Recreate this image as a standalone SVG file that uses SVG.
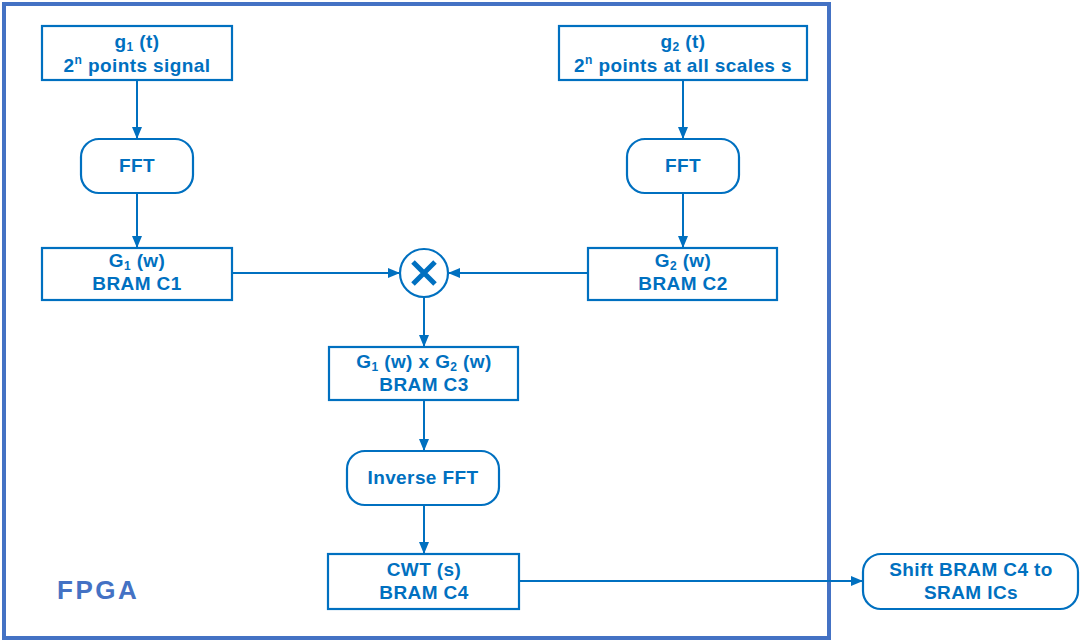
<svg xmlns="http://www.w3.org/2000/svg" width="1080" height="643" viewBox="0 0 1080 643">
<defs>
<marker id="ah" viewBox="0 0 12 10" refX="12" refY="5" markerWidth="12" markerHeight="10" markerUnits="userSpaceOnUse" orient="auto">
<path d="M0,0 L12,5 L0,10 Z" fill="#0070C0"/>
</marker>
<style>
.box{fill:#fff;stroke:#0070C0;stroke-width:2.2}
.t{font-family:"Liberation Sans",Arial,sans-serif;font-weight:bold;font-size:19px;fill:#0070C0;text-anchor:middle;letter-spacing:0.4px}
.sub{font-size:12px}
.c{fill:none;stroke:#0070C0;stroke-width:2;marker-end:url(#ah)}
</style>
</defs>
<rect width="1080" height="643" fill="#fff"/>
<rect id="fpga" x="4" y="4" width="825" height="634" fill="none" stroke="#4472C4" stroke-width="4"/>
<text x="57" y="599" font-family="'Liberation Sans',Arial,sans-serif" font-weight="bold" font-size="26" letter-spacing="2.5" fill="#4472C4">FPGA</text>
<g id="connectors">
<line class="c" x1="137" y1="80" x2="137" y2="139"/>
<line class="c" x1="137" y1="193" x2="137" y2="248"/>
<line class="c" x1="683" y1="80" x2="683" y2="139"/>
<line class="c" x1="683" y1="193" x2="683" y2="248"/>
<line class="c" x1="232" y1="273" x2="400" y2="273"/>
<line class="c" x1="588" y1="273" x2="448" y2="273"/>
<line class="c" x1="424" y1="297" x2="424" y2="347"/>
<line class="c" x1="424" y1="400" x2="424" y2="451"/>
<line class="c" x1="424" y1="505" x2="424" y2="554"/>
<line class="c" x1="519" y1="581" x2="863" y2="581"/>
</g>
<g id="g1">
<rect class="box" x="42" y="26" width="190" height="54"/>
<text class="t" x="137" y="48">g<tspan class="sub" dy="3">1</tspan><tspan dy="-3"> (t)</tspan></text>
<text class="t" x="137" y="72">2<tspan class="sub" dy="-8">n</tspan><tspan dy="8"> points signal</tspan></text>
</g>
<g id="fft1">
<rect class="box" x="81" y="139" width="112" height="54" rx="18"/>
<text class="t" x="137" y="172">FFT</text>
</g>
<g id="G1">
<rect class="box" x="42" y="248" width="190" height="52"/>
<text class="t" x="137" y="267">G<tspan class="sub" dy="3">1</tspan><tspan dy="-3"> (w)</tspan></text>
<text class="t" x="137" y="290">BRAM C1</text>
</g>
<g id="g2">
<rect class="box" x="559" y="26" width="248" height="54"/>
<text class="t" x="683" y="48">g<tspan class="sub" dy="3">2</tspan><tspan dy="-3"> (t)</tspan></text>
<text class="t" x="683" y="72">2<tspan class="sub" dy="-8">n</tspan><tspan dy="8"> points at all scales s</tspan></text>
</g>
<g id="fft2">
<rect class="box" x="627" y="139" width="112" height="54" rx="18"/>
<text class="t" x="683" y="172">FFT</text>
</g>
<g id="G2">
<rect class="box" x="588" y="248" width="189" height="52"/>
<text class="t" x="683" y="267">G<tspan class="sub" dy="3">2</tspan><tspan dy="-3"> (w)</tspan></text>
<text class="t" x="683" y="290">BRAM C2</text>
</g>
<g id="mult">
<circle cx="424" cy="273" r="24" fill="#fff" stroke="#0070C0" stroke-width="2.2"/>
<path d="M413,262 L435,284 M435,262 L413,284" stroke="#0070C0" stroke-width="5" stroke-linecap="butt"/>
</g>
<g id="G1G2">
<rect class="box" x="329" y="347" width="189" height="53"/>
<text class="t" x="424" y="368">G<tspan class="sub" dy="3">1</tspan><tspan dy="-3"> (w) x G</tspan><tspan class="sub" dy="3">2</tspan><tspan dy="-3"> (w)</tspan></text>
<text class="t" x="424" y="391">BRAM C3</text>
</g>
<g id="ifft">
<rect class="box" x="347" y="451" width="152" height="54" rx="18"/>
<text class="t" x="423" y="484">Inverse FFT</text>
</g>
<g id="cwt">
<rect class="box" x="328" y="554" width="191" height="55"/>
<text class="t" x="424" y="576">CWT (s)</text>
<text class="t" x="424" y="599">BRAM C4</text>
</g>
<g id="shift">
<rect class="box" x="863" y="554" width="215" height="55" rx="18"/>
<text class="t" x="971" y="576">Shift BRAM C4 to</text>
<text class="t" x="971" y="599">SRAM ICs</text>
</g>
</svg>
